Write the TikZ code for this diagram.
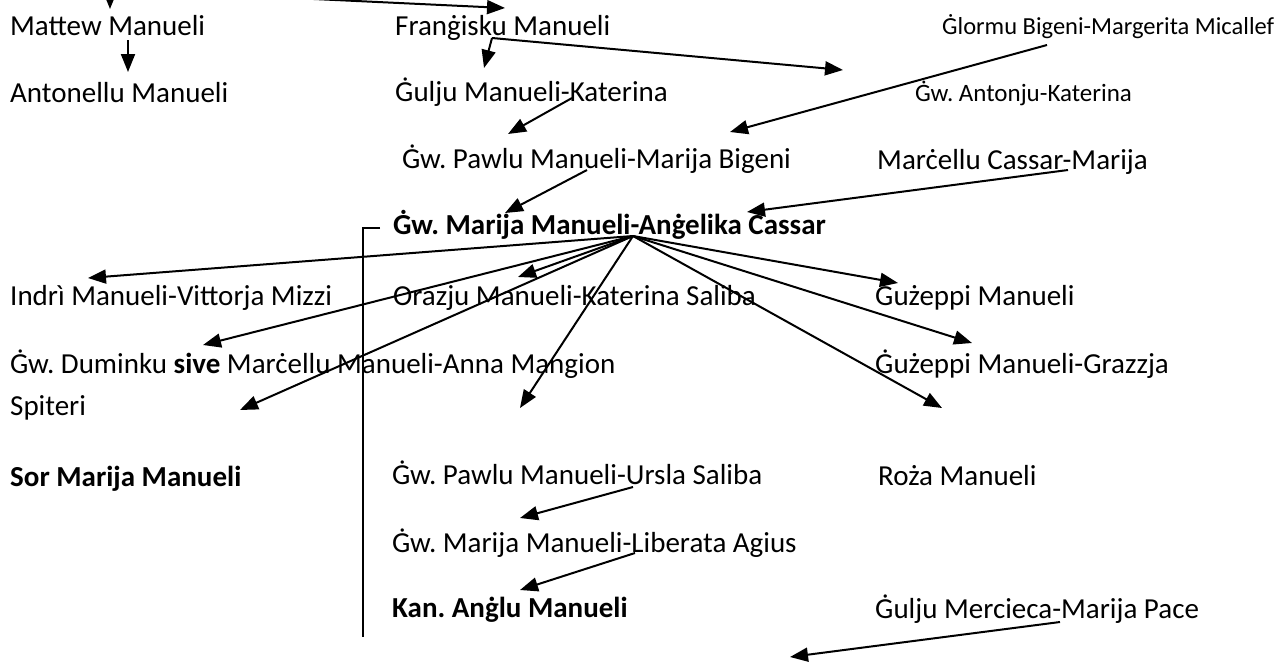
\documentclass[tikz,border=0pt]{standalone}
\usepackage{fontspec}
\setmainfont{Carlito}
\frenchspacing
\usetikzlibrary{arrows.meta}
\begin{document}
\begin{tikzpicture}[x=1pt,y=-1pt,
  lbl/.style={anchor=base west,inner sep=0pt,font=\fontsize{29}{35}\selectfont\frenchspacing},
  lbls/.style={anchor=base west,inner sep=0pt,font=\fontsize{25}{30}\selectfont\frenchspacing},
  lblb/.style={anchor=base west,inner sep=0pt,font=\fontsize{29}{35}\selectfont\bfseries\frenchspacing},
  arr/.style={line width=2pt,-{Triangle[length=18pt,width=14pt]}},
  brk/.style={line width=1.2pt}]
\useasboundingbox (0,0) rectangle (1281,664);
\clip (0,0) rectangle (1281,664);
% texts
\node[lbl] (mattew) at (10,35) {Mattew Manueli};
\node[lbl] (frang) at (395,35) {Franġisku Manueli};
\node[lbls,font=\fontsize{24.5}{30}\selectfont] (glormu) at (942,34) {Ġlormu Bigeni-Margerita Micallef};
\node[lbl] (anton) at (10,102) {Antonellu Manueli};
\node[lbl] (gulju) at (395,101) {Ġulju Manueli-Katerina};
\node[lbls] (antonju) at (915,101) {Ġw. Antonju-Katerina};
\node[lbl] (pawlu) at (402,168) {Ġw. Pawlu Manueli-Marija Bigeni};
\node[lbl] (marcellu) at (877,169) {Marċellu Cassar-Marija};
\node[lblb] (marija) at (393,234) {Ġw. Marija Manueli-Anġelika Cassar};
\node[lbl] (indri) at (10,305) {Indrì Manueli-Vittorja Mizzi};
\node[lbl] (orazju) at (393,305) {Orazju Manueli-Katerina Saliba};
\node[lbl] (guzeppi) at (875,305) {Ġużeppi Manueli};
\node[lbl] (duminku) at (10,373) {Ġw. Duminku \textbf{sive} Marċellu Manueli-Anna Mangion};
\node[lbl] (guzeppig) at (875,373) {Ġużeppi Manueli-Grazzja};
\node[lbl] (spiteri) at (10,415) {Spiteri};
\node[lblb] (sor) at (10,486) {Sor Marija Manueli};
\node[lbl] (ursla) at (392,484) {Ġw. Pawlu Manueli-Ursla Saliba};
\node[lbl] (roza) at (878,485) {Roża Manueli};
\node[lbl] (liberata) at (392,552) {Ġw. Marija Manueli-Liberata Agius};
\node[lblb] (kan) at (392,617) {Kan. Anġlu Manueli};
\node[lbl] (mercieca) at (875,618) {Ġulju Mercieca-Marija Pace};
% connector end points
\coordinate (topA) at (110,-10);
\coordinate (topAt) at (110,9);
\coordinate (topB) at (250,-4);
\coordinate (topBt) at (505,8);
\coordinate (mS) at (128,40);
\coordinate (mT) at (128,72);
\coordinate (fS) at (492,38);
\coordinate (fT1) at (484,68);
\coordinate (fT2) at (843,70);
\coordinate (gS) at (572,98);
\coordinate (gT) at (508,134);
\coordinate (glS) at (1047,45);
\coordinate (glT) at (730,132);
\coordinate (pS) at (587,170);
\coordinate (pT) at (505,213);
\coordinate (mcS) at (1068,170);
\coordinate (mcT) at (747,212);
\coordinate (hub) at (633,236);
\coordinate (h1) at (88,278);
\coordinate (h2) at (518,277);
\coordinate (h3) at (203,345);
\coordinate (h4) at (240,410);
\coordinate (h5) at (520,408);
\coordinate (h6) at (898,283);
\coordinate (h7) at (972,343);
\coordinate (h8) at (942,408);
\coordinate (uS) at (633,487);
\coordinate (uT) at (520,518);
\coordinate (lS) at (635,553);
\coordinate (lT) at (520,590);
\coordinate (mrS) at (1060,622);
\coordinate (mrT) at (790,657);
\coordinate (bk1) at (380,228);
\coordinate (bk2) at (363,228);
\coordinate (bk3) at (363,637);
% connectors
\draw[arr] (topA) -- (topAt);
\draw[arr] (topB) -- (topBt);
\draw[arr] (mS) -- (mT);
\draw[arr] (fS) -- (fT1);
\draw[arr] (fS) -- (fT2);
\draw[arr] (gS) -- (gT);
\draw[arr] (glS) -- (glT);
\draw[arr] (pS) -- (pT);
\draw[arr] (mcS) -- (mcT);
\foreach \t in {h1,h2,h3,h4,h5,h6,h7,h8} \draw[arr] (hub) -- (\t);
\draw[arr] (uS) -- (uT);
\draw[arr] (lS) -- (lT);
\draw[arr] (mrS) -- (mrT);
\draw[brk] (bk1) -- (bk2) -- (bk3);
\end{tikzpicture}
\end{document}
